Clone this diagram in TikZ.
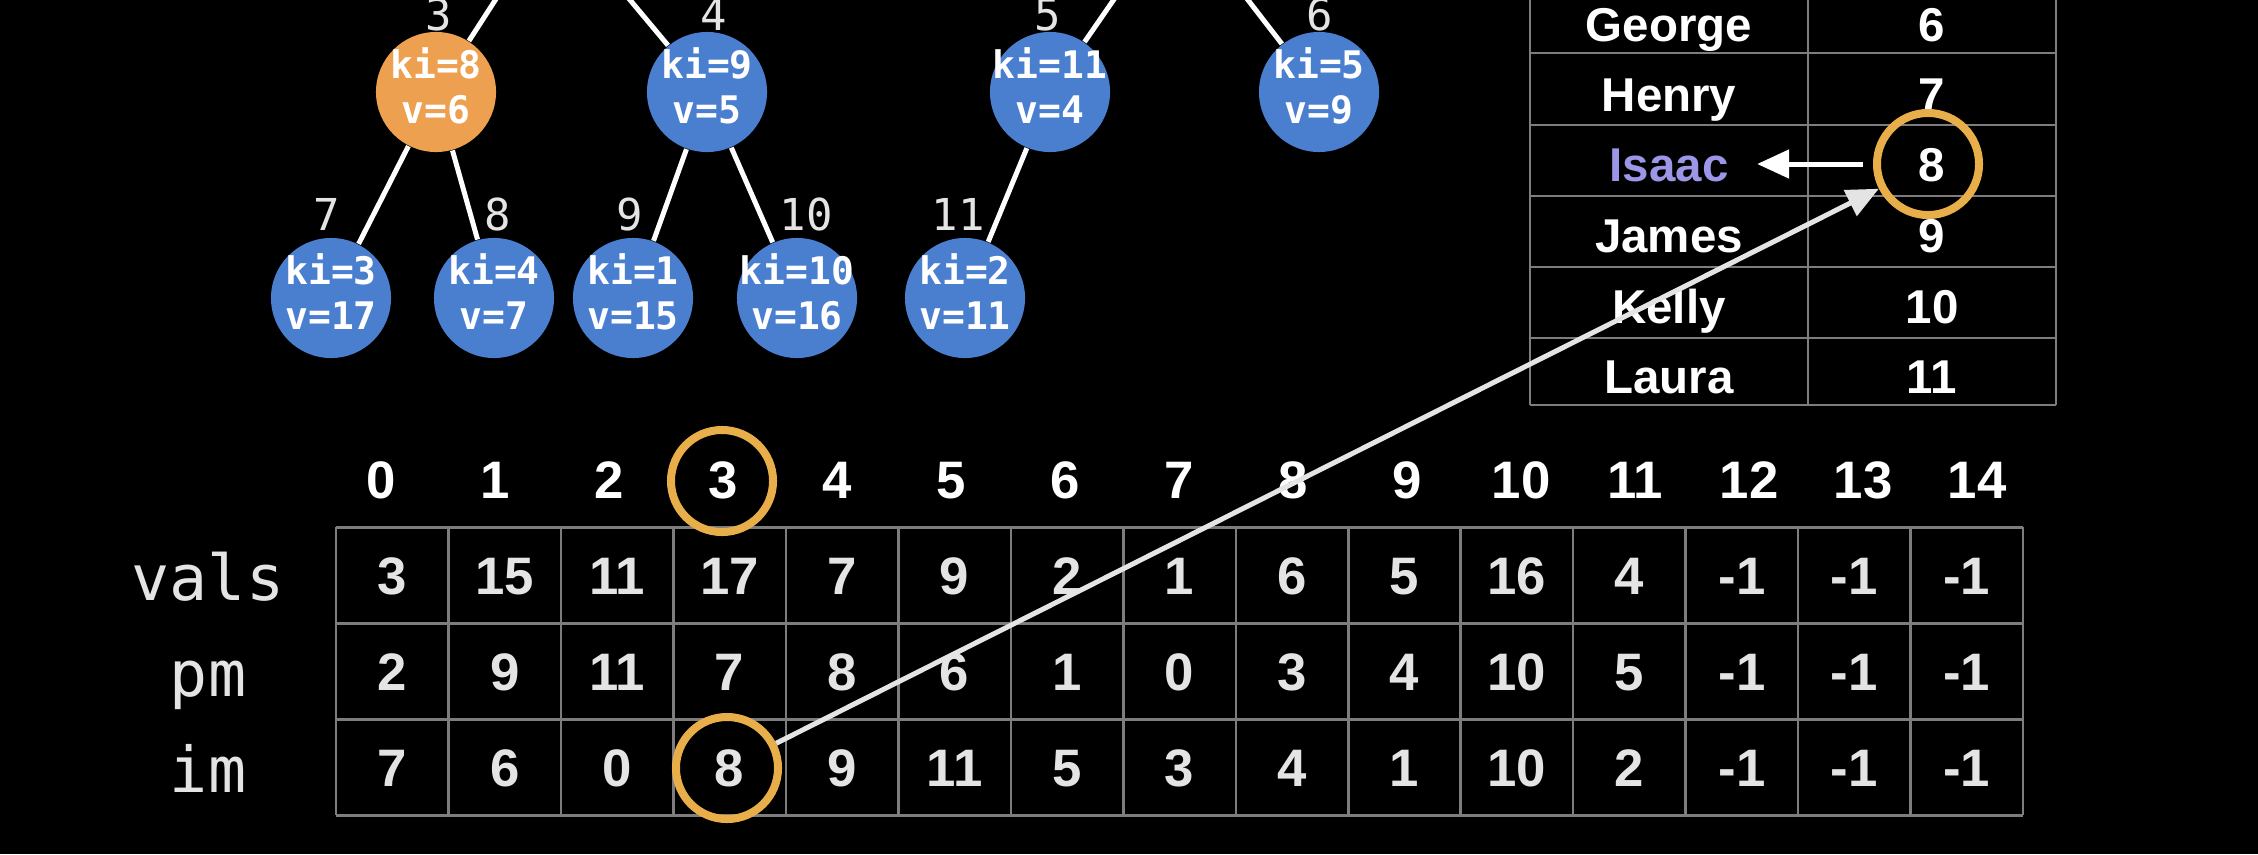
\documentclass[tikz,border=0pt]{standalone}
\usepackage{fontspec}
\setmainfont{Liberation Sans}
\newfontfamily\codefont{DejaVu Sans Mono}
\usetikzlibrary{arrows.meta,positioning}
\definecolor{heapblue}{RGB}{74,127,208}
\definecolor{heaporange}{RGB}{237,160,79}
\definecolor{ringgold}{RGB}{232,174,74}
\definecolor{namepurple}{RGB}{156,150,230}
\definecolor{gridgrey}{RGB}{125,125,125}
\definecolor{textgrey}{RGB}{228,228,228}
\newcommand\kv[2]{\makebox[0pt]{\begin{tabular}{@{}c@{}}ki=#1\\v=#2\end{tabular}}}
\tikzset{
  heapnode/.style={circle, fill=heapblue, minimum size=1.2cm, inner sep=0pt, text=white,
    font=\codefont\bfseries\fontsize{10.8}{12.8}\selectfont},
  keynode/.style={heapnode, fill=heaporange},
  idxlabel/.style={anchor=base, inner sep=0pt, text=textgrey, font=\codefont\fontsize{12.5}{14}\selectfont},
  edge/.style={white, line width=0.05cm},
  ring/.style={circle, draw=ringgold, line width=0.08cm, minimum size=1.02cm, inner sep=0pt},
  gridline/.style={gridgrey, line width=0.025cm},
  cell/.style={anchor=base, inner sep=0pt, text=textgrey, font=\bfseries\fontsize{15}{18}\selectfont},
  rowname/.style={anchor=base, inner sep=0pt, text=textgrey, font=\codefont\fontsize{18}{20}\selectfont},
  namecell/.style={anchor=base, inner sep=0pt, text=white, font=\bfseries\fontsize{13.5}{16}\selectfont},
  pointer/.style={-{Triangle[length=0.32cm,width=0.28cm]}, line width=0.05cm, white}
}
\begin{document}
\begin{tikzpicture}[x=0.01cm, y=-0.01cm]
    \useasboundingbox (0,0) rectangle (2258,854);
    \fill[black] (0,0) rectangle (2258,854);
    \clip (0,0) rectangle (2258,854);

    \coordinate (p1) at (554,-91);
    \coordinate (p2) at (1177,-92);
    \node[keynode] (n3) at (436,92) {\kv{8}{6}};
    \node[heapnode] (n4) at (707,92) {\kv{9}{5}};
    \node[heapnode] (n5) at (1050,92) {\kv{11}{4}};
    \node[heapnode] (n6) at (1319,92) {\kv{5}{9}};
    \node[heapnode] (n7) at (331,298) {\kv{3}{17}};
    \node[heapnode] (n8) at (494,298) {\kv{4}{7}};
    \node[heapnode] (n9) at (633,298) {\kv{1}{15}};
    \node[heapnode] (n10) at (797,298) {\kv{10}{16}};
    \node[heapnode] (n11) at (965,298) {\kv{2}{11}};
    \draw[edge] (n3) -- (p1);
    \draw[edge] (n4) -- (p1);
    \draw[edge] (n5) -- (p2);
    \draw[edge] (n6) -- (p2);
    \draw[edge] (n3) -- (n7);
    \draw[edge] (n3) -- (n8);
    \draw[edge] (n4) -- (n9);
    \draw[edge] (n4) -- (n10);
    \draw[edge] (n5) -- (n11);
    \foreach \k/\x/\y in {3/439/30, 4/714/30, 5/1048/30, 6/1320/30, 7/327/230, 8/498/230, 9/630/230, 10/806/230, 11/958/230}
        \node[idxlabel] (lbl\k) at (\x,\y) {\k};

    \foreach \x in {1530,1808,2056}
        \draw[gridline] (\x,-20) -- (\x,405);
    \foreach \y in {53,125,196,267,338,405}
        \draw[gridline] (1530,\y) -- (2056,\y);
    \foreach \n/\k/\y/\c in {George/6/18/white, Henry/7/88/white, Isaac/8/158/namepurple, James/9/229/white, Kelly/10/300/white, Laura/11/370/white} {
        \node[namecell, text=\c] (name\k) at (1669,\y+23) {\n};
        \node[namecell] (key\k) at (1932,\y+23) {\k};
    }

    \foreach \i in {0,...,15}
        \draw[gridline] ({336+112.47*\i},527) -- ({336+112.47*\i},815);
    \foreach \y in {527,623,719,815}
        \draw[gridline, line width=0.03cm] (336,\y) -- (2023,\y);
    \foreach \i in {0,...,14}
        \node[cell, text=white] (idx\i) at ({381+114*\i},498) {\i};
    \foreach \v [count=\i from 0] in {3,15,11,17,7,9,2,1,6,5,16,4,-1,-1,-1}
        \node[cell] (vals\i) at ({336+112.47*(\i+0.5)},594) {\v};
    \foreach \v [count=\i from 0] in {2,9,11,7,8,6,1,0,3,4,10,5,-1,-1,-1}
        \node[cell] (pm\i) at ({336+112.47*(\i+0.5)},690) {\v};
    \foreach \v [count=\i from 0] in {7,6,0,8,9,11,5,3,4,1,10,2,-1,-1,-1}
        \node[cell] (im\i) at ({336+112.47*(\i+0.5)},786) {\v};
    \node[rowname] (valsname) at (208,600) {vals};
    \node[rowname] (pmname) at (208,696) {pm};
    \node[rowname] (imname) at (208,792) {im};

    \node[ring] (ringidx) at (722,481) {};
    \node[ring] (ringim) at (727,768) {};
    \node[ring] (ringkey) at (1928,164) {};
    \draw[pointer, textgrey] (ringim) -- (ringkey);
    \draw[pointer, shorten <=0.1cm, shorten >=0.28cm] (ringkey.west) -- (ringkey.west -| name8.east);
\end{tikzpicture}
\end{document}
